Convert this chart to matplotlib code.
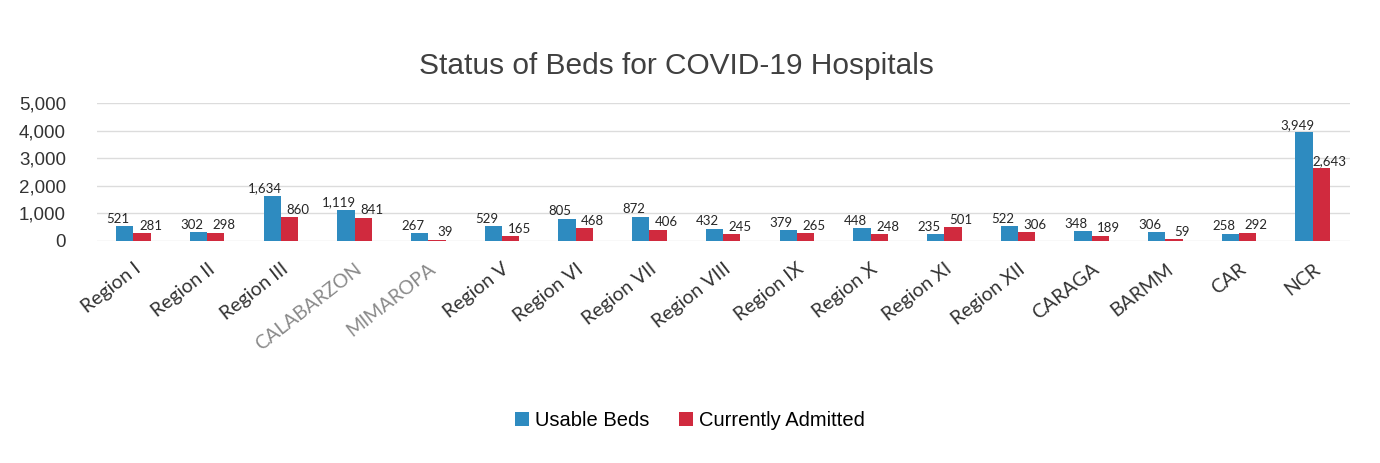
import numpy as np
import matplotlib.pyplot as plt

regions = ["Region I", "Region II", "Region III", "CALABARZON", "MIMAROPA",
           "Region V", "Region VI", "Region VII", "Region VIII", "Region IX",
           "Region X", "Region XI", "Region XII", "CARAGA", "BARMM", "CAR", "NCR"]
usable_beds = [521, 302, 1634, 1119, 267, 529, 805, 872, 432, 379, 448, 235, 522, 348, 306, 258, 3949]
currently_admitted = [281, 298, 860, 841, 39, 165, 468, 406, 245, 265, 248, 501, 306, 189, 59, 292, 2643]
y_ticks = [0, 1000, 2000, 3000, 4000, 5000]

blue = "#2e8bc0"
red = "#d02a3e"

fig = plt.figure(figsize=(13.8, 4.63), dpi=100)
ax = fig.add_axes([0.070, 0.480, 0.908, 0.297])

x = np.arange(len(regions))
w = 0.235
b1 = ax.bar(x - w / 2, usable_beds, w, color=blue, label="Usable Beds")
b2 = ax.bar(x + w / 2, currently_admitted, w, color=red, label="Currently Admitted")

# blue labels pushed left, red ones right, so pairs don't collide
for bars, vals, dx in [(b1, usable_beds, -5), (b2, currently_admitted, 6)]:
    for r, v in zip(bars, vals):
        ax.annotate(f"{v:,}", (r.get_x() + r.get_width() / 2, r.get_height()),
                    xytext=(dx, 1), textcoords="offset points", ha="center", va="bottom",
                    fontsize=9.5, family="Lato", color="#262626")

ax.set_xlim(-0.5, len(regions) - 0.5)
ax.set_ylim(0, 5000)
ax.set_yticks(y_ticks)
ax.set_yticklabels([f"{t:,}" for t in y_ticks], fontsize=13.5, family="Liberation Sans", color="#333333")
ax.yaxis.grid(True, color="#dcdcdc", lw=1)
ax.set_axisbelow(True)
ax.tick_params(axis="both", length=0)
ax.tick_params(axis="y", pad=22)
for s in ax.spines.values():
    s.set_visible(False)

ax.set_xticks(x)
ax.set_xticklabels(regions, rotation=38, ha="right", rotation_mode="anchor",
                   fontsize=14, family="Lato", color="#333333")
for lbl in ax.get_xticklabels():
    if lbl.get_text() in ("CALABARZON", "MIMAROPA"):
        lbl.set_color("#8a8a8a")
ax.tick_params(axis="x", pad=14)

fig.text(0.49, 0.858, "Status of Beds for COVID-19 Hospitals", ha="center", va="center",
         fontsize=21.5, family="Liberation Sans", color="#404040")

fig.legend(handles=[b1, b2], loc="center", bbox_to_anchor=(0.5, 0.092), ncol=2,
           frameon=False, handlelength=0.7, handleheight=0.7,
           handletextpad=0.3, columnspacing=1.5, prop={"family": "Liberation Sans", "size": 14.5})

fig.savefig("out.png", dpi=100, facecolor="white")
